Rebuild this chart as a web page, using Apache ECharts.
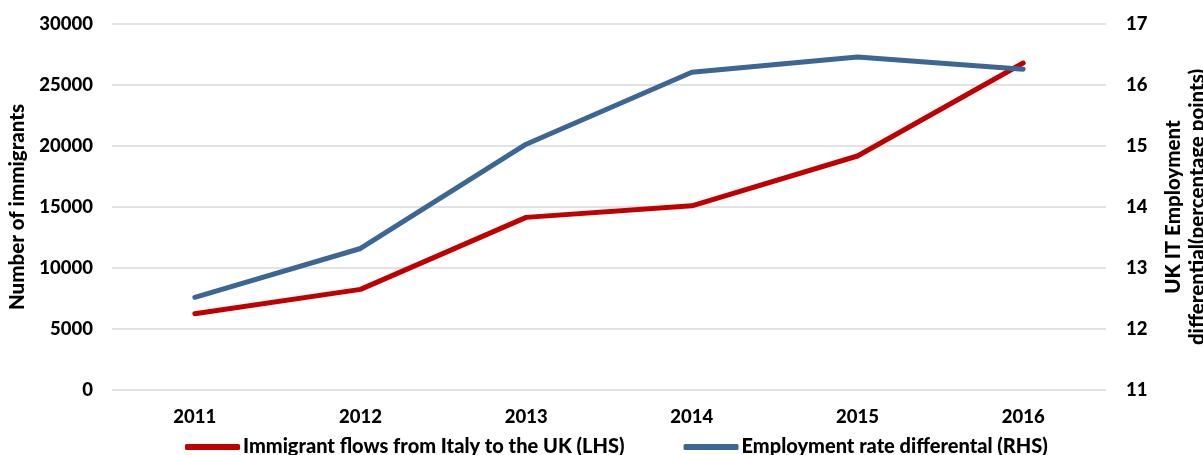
<!DOCTYPE html>
<html>
<head>
<meta charset="utf-8">
<script src="https://cdn.jsdelivr.net/npm/echarts@6/dist/echarts.min.js"></script>
<style>
html,body{margin:0;padding:0;background:#fff;}
#c{width:1203px;height:455px;}
</style>
</head>
<body>
<div id="c"></div>
<script>
const categories = ['2011', '2012', '2013', '2014', '2015', '2016'];
const immigrantFlows = [6250, 8250, 14150, 15100, 19180, 26800];
const employmentDiff = [12.52, 13.32, 15.03, 16.21, 16.46, 16.26];
const leftTicks = { min: 0, max: 30000, interval: 5000 };
const rightTicks = { min: 11, max: 17, interval: 1 };

const FONT = 'Lato';
const W = 900;
const chart = echarts.init(document.getElementById('c'), null, { renderer: 'canvas' });
chart.setOption({
  animation: false,
  backgroundColor: '#fff',
  textStyle: { fontFamily: FONT },
  grid: { left: 112, right: 97, top: 24, bottom: 65, containLabel: false, outerBoundsMode: 'none' },
  legend: {
    top: 432,
    left: 180,
    itemWidth: 55,
    itemHeight: 6,
    itemGap: 59,
    icon: 'roundRect',
    textStyle: { fontFamily: FONT, fontWeight: W, fontSize: 20, color: '#000', padding: [0, 0, 0, -2] },
    data: ['Immigrant flows from Italy to the UK (LHS)', 'Employment rate differental (RHS)']
  },
  xAxis: {
    type: 'category',
    data: categories,
    boundaryGap: true,
    axisLine: { show: false },
    axisTick: { show: false },
    axisLabel: { margin: 18, fontFamily: FONT, fontWeight: W, fontSize: 18.5, color: '#000' }
  },
  yAxis: [
    {
      type: 'value',
      min: leftTicks.min, max: leftTicks.max, interval: leftTicks.interval,
      name: 'Number of immigrants',
      nameLocation: 'middle',
      nameRotate: 90,
      nameGap: 84,
      nameTextStyle: { fontFamily: FONT, fontWeight: W, fontSize: 20.5, color: '#000' },
      axisLine: { show: false },
      axisTick: { show: false },
      axisLabel: { margin: 19, fontFamily: FONT, fontWeight: W, fontSize: 18.5, color: '#000',
        formatter: function (v) { return String(v); } },
      splitLine: { show: true, lineStyle: { color: '#d9d9d9', width: 1.5 } }
    },
    {
      type: 'value',
      position: 'right',
      min: rightTicks.min, max: rightTicks.max, interval: rightTicks.interval,
      name: 'UK IT Employment\ndifferential(percentage points)',
      nameLocation: 'middle',
      nameRotate: 90,
      nameGap: 55,
      nameTextStyle: { fontFamily: FONT, fontWeight: W, fontSize: 20.5, color: '#000', lineHeight: 24 },
      axisLine: { show: false },
      axisTick: { show: false },
      axisLabel: { margin: 20, fontFamily: FONT, fontWeight: W, fontSize: 18.5, color: '#000' },
      splitLine: { show: false }
    }
  ],
  series: [
    {
      name: 'Immigrant flows from Italy to the UK (LHS)',
      type: 'line',
      yAxisIndex: 0,
      data: immigrantFlows,
      showSymbol: false,
      symbol: 'none',
      lineStyle: { color: '#C00000', width: 5, cap: 'round' },
      itemStyle: { color: '#C00000' }
    },
    {
      name: 'Employment rate differental (RHS)',
      type: 'line',
      yAxisIndex: 1,
      data: employmentDiff,
      showSymbol: false,
      symbol: 'none',
      lineStyle: { color: '#3B6696', width: 5, cap: 'round' },
      itemStyle: { color: '#3B6696' }
    }
  ]
});
</script>
</body>
</html>
